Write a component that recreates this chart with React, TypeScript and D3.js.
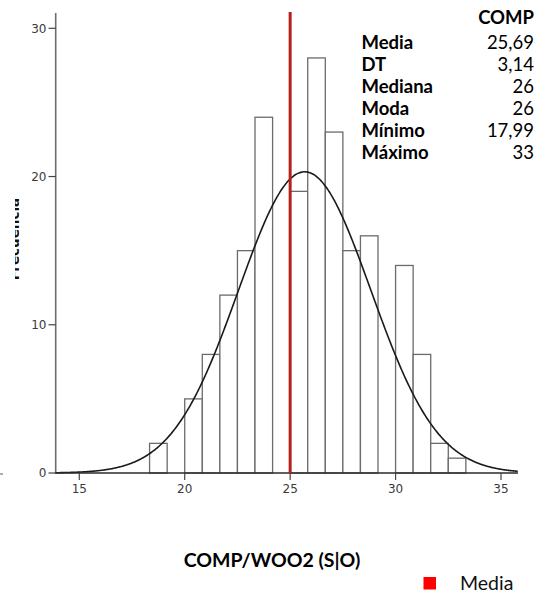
import React from 'react';
import * as d3 from 'd3';

// Histogram bins (lower/upper edges) and their frequencies
const binEdges = [17.5, 18.333, 19.167, 20, 20.833, 21.667, 22.5, 23.333, 24.167, 25, 25.833, 26.667, 27.5, 28.333, 29.167, 30, 30.833, 31.667, 32.5, 33.333];
const binCounts = [0, 2, 0, 5, 8, 12, 15, 24, 0, 19, 28, 23, 15, 16, 0, 14, 8, 2, 1];

const xTicks = [15, 20, 25, 30, 35];
const yTicks = [0, 10, 20, 30];

const statHeader = 'COMP';
const statLabels = ['Media', 'DT', 'Mediana', 'Moda', 'Mínimo', 'Máximo'];
const statValues = ['25,69', '3,14', '26', '26', '17,99', '33'];

const meanValue = 25.69;
const sdValue = 3.14;
const mediaLineValue = 25;

const xTitle = 'COMP/WOO2 (S|O)';
const yTitle = 'Frecuencia';
const legendLabel = 'Media';

const W = 548;
const H = 596;

export default function App() {
  const x = d3.scaleLinear().domain([15, 35]).range([79.3, 501]);
  const y = d3.scaleLinear().domain([0, 30]).range([473, 28.3]);
  const xMin = x.invert(56);
  const xMax = x.invert(518);

  const total = d3.sum(binCounts);
  const binWidth = binEdges[1] - binEdges[0];
  const scaleFactor = total * binWidth;
  const pdf = (v: number) =>
    Math.exp(-0.5 * ((v - meanValue) / sdValue) ** 2) / (sdValue * Math.sqrt(2 * Math.PI));
  const pts = d3.range(xMin, xMax + 0.001, 0.05).map((v) => [v, scaleFactor * pdf(v)] as [number, number]);
  const line = d3
    .line<[number, number]>()
    .x((d) => x(d[0]))
    .y((d) => y(d[1]))
    .curve(d3.curveMonotoneX);

  const tickFont = '"DejaVu Sans", sans-serif';
  const textFont = 'Lato, "Open Sans", sans-serif';
  const tableSize = 18.5;

  return (
    <svg
      width={W}
      height={H}
      viewBox={`0 0 ${W} ${H}`}
      style={{ position: 'absolute', left: 0, top: 0, background: '#fff' }}
    >
      <defs>
        <clipPath id="ylab-clip">
          <rect x={15} y={0} width={4.5} height={H} />
        </clipPath>
      </defs>

      {/* bars */}
      {binCounts.map((c, i) =>
        c > 0 ? (
          <rect
            key={i}
            x={x(binEdges[i])}
            y={y(c)}
            width={x(binEdges[i + 1]) - x(binEdges[i])}
            height={y(0) - y(c)}
            fill="#fff"
            stroke="#6b6b6b"
            strokeWidth={1.3}
          />
        ) : null
      )}

      {/* normal curve */}
      <path d={line(pts) || ''} fill="none" stroke="#1a1a1a" strokeWidth={1.6} />

      {/* y axis */}
      <line x1={55.7} x2={55.7} y1={13} y2={473} stroke="#6e6e6e" strokeWidth={1.6} />
      {yTicks.map((t) => (
        <g key={t}>
          <line x1={48.5} x2={55.7} y1={y(t)} y2={y(t)} stroke="#444" strokeWidth={1.2} />
          <text
            x={46.5}
            y={y(t)}
            dy="0.36em"
            textAnchor="end"
            fontFamily={tickFont}
            fontSize={12}
            fill="#3a3a3a"
          >
            {t}
          </text>
        </g>
      ))}

      {/* x axis */}
      <line x1={55} x2={518} y1={473} y2={473} stroke="#2a2a2a" strokeWidth={1.5} />
      {xTicks.map((t) => (
        <g key={t}>
          <line x1={x(t)} x2={x(t)} y1={473} y2={480} stroke="#444" strokeWidth={1.2} />
          <text
            x={x(t)}
            y={493}
            textAnchor="middle"
            fontFamily={tickFont}
            fontSize={12}
            fill="#3a3a3a"
          >
            {t}
          </text>
        </g>
      ))}

      {/* y axis title (partially clipped) */}
      <g clipPath="url(#ylab-clip)">
        <text
          transform={`translate(18.6, 239) rotate(-90)`}
          textAnchor="middle"
          fontFamily={tickFont}
          fontWeight="bold"
          fontSize={13.5}
          fill="#111"
        >
          {yTitle}
        </text>
      </g>
      <line x1={0} x2={3} y1={474} y2={474} stroke="#777" strokeWidth={1.2} />

      {/* media line */}
      <line
        x1={x(mediaLineValue)}
        x2={x(mediaLineValue)}
        y1={12}
        y2={473}
        stroke="#b5201c"
        strokeWidth={3}
      />

      {/* statistics table */}
      <text x={534} y={24} textAnchor="end" fontFamily={textFont} fontWeight="bold" fontSize={tableSize} fill="#000">
        {statHeader}
      </text>
      {statLabels.map((lab, i) => (
        <g key={lab}>
          <text x={361.5} y={48.5 + i * 22} fontFamily={textFont} fontWeight="bold" fontSize={tableSize} fill="#000">
            {lab}
          </text>
          <text x={534} y={48.5 + i * 22} textAnchor="end" fontFamily={textFont} fontSize={tableSize} fill="#000">
            {statValues[i]}
          </text>
        </g>
      ))}

      {/* x axis title */}
      <text x={272} y={567} textAnchor="middle" fontFamily={textFont} fontWeight="bold" fontSize={19.5} fill="#000">
        {xTitle}
      </text>

      {/* legend */}
      <rect x={423.5} y={577} width={12.5} height={12.5} fill="#ff0000" />
      <text x={460} y={590} fontFamily={textFont} fontSize={19.5} fill="#111">
        {legendLabel}
      </text>
    </svg>
  );
}
